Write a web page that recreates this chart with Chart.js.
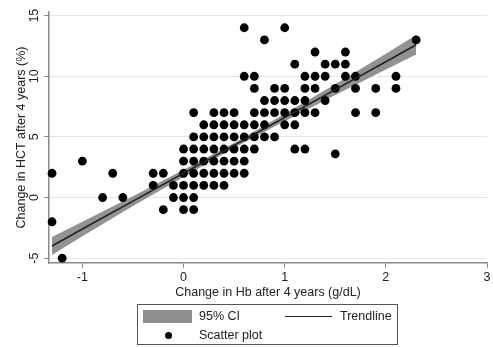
<!DOCTYPE html>
<html>
<head>
<meta charset="utf-8">
<script src="https://cdn.jsdelivr.net/npm/chart.js@4/dist/chart.umd.min.js"></script>
<style>
  html, body { margin: 0; padding: 0; background: #fff; }
  #wrap { position: relative; width: 493px; height: 347px; font-family: 'Liberation Sans', Arial, sans-serif; }
  #legend { position: absolute; left: 137px; top: 304px; width: 261px; height: 41px; border: 1px solid #555; box-sizing: border-box; font-size: 12.5px; color: #222; }
  #legend .it { position: absolute; line-height: 14px; }
</style>
</head>
<body>
<div id="wrap">
  <canvas id="c" width="493" height="347"></canvas>
  <div id="legend">
    <div style="position:absolute;left:5px;top:5px;width:49px;height:13px;background:#8f8f8f"></div>
    <div class="it" style="left:61px;top:4px">95% CI</div>
    <div style="position:absolute;left:147px;top:11px;width:47px;height:0;border-top:1.5px solid #222"></div>
    <div class="it" style="left:202px;top:4px">Trendline</div>
    <div style="position:absolute;left:27px;top:27px;width:7px;height:7px;border-radius:50%;background:#000"></div>
    <div class="it" style="left:61px;top:23px">Scatter plot</div>
  </div>
</div>
<script>
// scatter points, grouped by HCT change (y) with their Hb change (x) values
const rowY = [14, 13, 12, 11, 10, 9, 8, 7, 6, 5, 4, 3.6, 3, 2, 1, 0, -1, -2, -5]
const rowX = [
  [0.6, 1.0],
  [0.8, 2.3],
  [1.3, 1.6],
  [1.1, 1.4, 1.5, 1.6],
  [0.6, 0.7, 1.2, 1.3, 1.4, 1.6, 1.7, 2.1],
  [0.7, 0.9, 1.0, 1.2, 1.3, 1.5, 1.7, 1.9, 2.1],
  [0.8, 0.9, 1.0, 1.1, 1.2, 1.4],
  [0.1, 0.3, 0.4, 0.5, 0.7, 0.8, 0.9, 1.0, 1.1, 1.2, 1.3, 1.7, 1.9],
  [0.2, 0.3, 0.4, 0.5, 0.6, 0.7, 0.8, 1.0, 1.1],
  [0.1, 0.2, 0.3, 0.4, 0.5, 0.6, 0.7, 0.8, 0.9],
  [0.0, 0.1, 0.2, 0.3, 0.4, 0.5, 0.6, 0.7, 1.1, 1.2],
  [1.5],
  [-1.0, 0.0, 0.1, 0.2, 0.3, 0.4, 0.5, 0.6],
  [-1.3, -0.7, -0.3, -0.2, 0.0, 0.1, 0.2, 0.3, 0.4, 0.5, 0.6],
  [-0.3, -0.1, 0.0, 0.1, 0.2, 0.3, 0.4],
  [-0.8, -0.6, -0.1, 0.0, 0.1],
  [-0.2, 0.0, 0.1],
  [-1.3],
  [-1.2]
]

// trendline and 95% CI band
const fitX = [-1.3, -1, -0.5, 0, 0.5, 1, 1.5, 2, 2.3]
const fitY = [-4.0, -2.6, -0.3, 2.0, 4.3, 6.6, 8.9, 11.2, 12.6]
const ciHi = [-3.25, -2.0, 0.1, 2.3, 4.5, 6.9, 9.35, 11.85, 13.4]
const ciLo = [-4.75, -3.2, -0.7, 1.7, 4.1, 6.3, 8.45, 10.55, 11.8]

const xTicks = [-1, 0, 1, 2, 3]
const yTicks = [-5, 0, 5, 10, 15]

const pts = []
rowY.forEach((y, i) => rowX[i].forEach(x => pts.push({ x, y })))
const toXY = ys => fitX.map((x, i) => ({ x, y: ys[i] }))

const FONT = { family: "'Liberation Sans', Arial, sans-serif", size: 12.5 }
const AXIS = '#8a8a8a'

new Chart(document.getElementById('c'), {
  data: {
    datasets: [
      { type: 'line', label: 'Trendline', data: toXY(fitY), borderColor: '#222', borderWidth: 1.6,
        pointRadius: 0, tension: 0, fill: false, order: 0 },
      { type: 'scatter', label: 'Scatter plot', data: pts, backgroundColor: '#000', borderWidth: 0,
        pointRadius: 4.4, clip: false, order: 1 },
      { type: 'line', label: 'lo', data: toXY(ciLo), borderWidth: 0, pointRadius: 0, fill: false, order: 2 },
      { type: 'line', label: '95% CI', data: toXY(ciHi), borderWidth: 0, pointRadius: 0,
        fill: '-1', backgroundColor: 'rgba(110,110,110,0.75)', order: 2 }
    ]
  },
  options: {
    responsive: false,
    animation: false,
    layout: { padding: { left: 0, right: 6, top: 12, bottom: 47 } },
    plugins: { legend: { display: false }, tooltip: { enabled: false } },
    scales: {
      x: {
        type: 'linear', min: -1.33, max: 3,
        afterBuildTicks: s => { s.ticks = xTicks.map(v => ({ value: v })) },
        afterFit: s => { s.height = 37 },
        grid: { drawOnChartArea: false, drawTicks: true, tickLength: 5, color: AXIS },
        border: { color: AXIS, width: 1.5 },
        ticks: { font: FONT, color: '#222', padding: 2 },
        title: { display: true, text: 'Change in Hb after 4 years (g/dL)', font: FONT, color: '#222', padding: 0 }
      },
      y: {
        type: 'linear', min: -5.4, max: 15.3,
        afterBuildTicks: s => { s.ticks = yTicks.map(v => ({ value: v })) },
        afterFit: s => { s.width = 49 },
        grid: { color: '#e6e6e6', tickColor: AXIS, tickLength: 5 },
        border: { color: AXIS, width: 1.5 },
        ticks: { font: FONT, color: '#222', minRotation: 90, maxRotation: 90, crossAlign: 'center', padding: 3 },
        title: { display: true, text: 'Change in HCT after 4 years (%)', font: FONT, color: '#222', padding: { top: 14, bottom: 0 } }
      }
    }
  }
})
</script>
</body>
</html>
